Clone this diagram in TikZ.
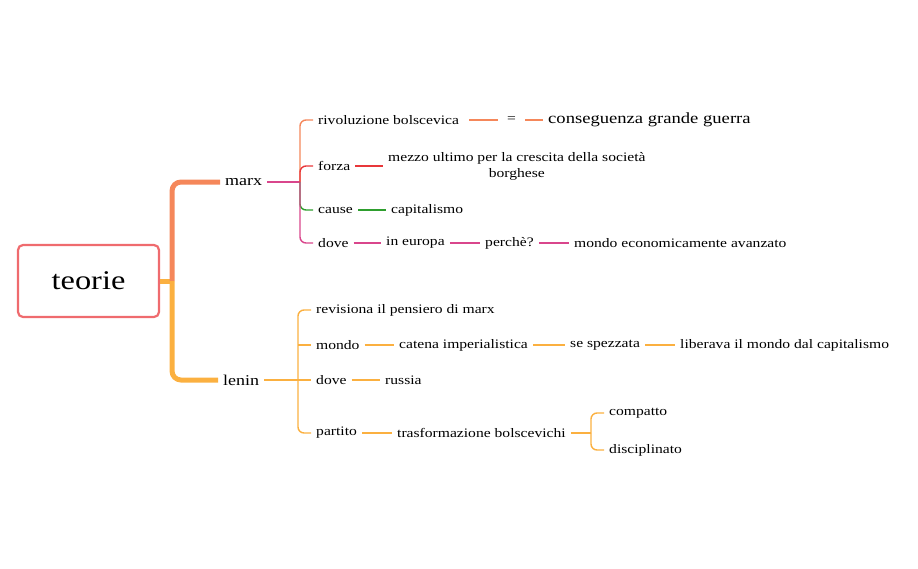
\documentclass[tikz,border=0pt]{standalone}
\usepackage{fontspec}
\setmainfont{Liberation Serif}[FakeStretch=1.2]
\begin{document}
\begin{tikzpicture}[x=1pt,y=-1pt,
  t/.style={inner xsep=5pt,inner ysep=1pt,anchor=west,font=\fontsize{13}{15}\selectfont},
  ln/.style={line width=1.4pt}]
\definecolor{cO}{HTML}{F5875A}\definecolor{cY}{HTML}{FBB040}
\definecolor{cR}{HTML}{E8373A}\definecolor{cG}{HTML}{2E9E2E}
\definecolor{cM}{HTML}{D9468C}\definecolor{cB}{HTML}{EF6B6E}
\useasboundingbox (0,0) rectangle (918,568);
\node[draw=cB,line width=2.2pt,rounded corners=5pt,minimum width=141pt,minimum height=72pt,font=\fontsize{27}{32}\selectfont] (teorie) at (88.5,281) {teorie};
\coordinate (hub) at (172,281);
\draw[cY,line width=5pt] (teorie.east) -- (hub);
\node[t,font=\fontsize{15}{18}\selectfont] (marx) at (220,182) {marx};
\node[t,font=\fontsize{15}{18}\selectfont] (lenin) at (218,380) {lenin};
\draw[cO,line width=5pt,rounded corners=9pt] (hub) -- (172,182) -- (marx.west);
\draw[cY,line width=5pt,rounded corners=9pt] (hub) -- (172,380) -- (lenin.west);
% marx
\node[t] (rb) at (313,120) {rivoluzione bolscevica};
\node[t] (fo) at (313,166) {forza};
\node[t] (ca) at (313,210) {cause};
\node[t] (do) at (313,243) {dove};
\coordinate (mb) at (300,182);
\draw[cM,ln] (marx.east) -- (mb);
\draw[cO,ln,rounded corners=6pt] (mb) -- (300,120) -- (rb.west);
\draw[cR,ln,rounded corners=6pt] (mb) -- (300,166) -- (fo.west);
\draw[cG,ln,rounded corners=6pt] (mb) -- (300,210) -- (ca.west);
\draw[cM,ln,rounded corners=6pt] (mb) -- (300,243) -- (do.west);
\node[t,inner xsep=9pt] (eq) at (498,120) {=};
\node[t,font=\fontsize{15.5}{18}\selectfont] (cg) at (543,120) {conseguenza grande guerra};
\draw[cO,ln] (rb.east)++(5,0) -- (eq.west);
\draw[cO,ln] (eq.east) -- (cg.west);
\node[t,align=center,anchor=west,font=\fontsize{13}{16}\selectfont] (mu) at (383,166) {mezzo ultimo per la crescita della società\\borghese};
\draw[cR,ln] (fo.east) -- (mu.west);
\node[t] (cp) at (386,210) {capitalismo};
\draw[cG,ln] (ca.east) -- (cp.west);
\node[t] (ie) at (381,243) {in europa};
\node[t] (pe) at (480,243) {perchè?};
\node[t] (me) at (569,243) {mondo economicamente avanzato};
\draw[cM,ln] (do.east) -- (ie.west);
\draw[cM,ln] (ie.east) -- (pe.west);
\draw[cM,ln] (pe.east) -- (me.west);
% lenin
\node[t] (rv) at (311,310) {revisiona il pensiero di marx};
\node[t] (mo) at (311,345) {mondo};
\node[t] (dl) at (311,380) {dove};
\node[t] (pa) at (311,433) {partito};
\coordinate (lb) at (298,380);
\draw[cY,ln] (lenin.east) -- (lb);
\draw[cY,ln,rounded corners=6pt] (lb) -- (298,310) -- (rv.west);
\draw[cY,ln] (lb) -- (dl.west);
\draw[cY,ln,rounded corners=6pt] (298,345) -- (mo.west);
\draw[cY,ln,rounded corners=6pt] (lb) -- (298,433) -- (pa.west);
\node[t] (ci) at (394,345) {catena imperialistica};
\node[t] (se) at (565,345) {se spezzata};
\node[t] (li) at (675,345) {liberava il mondo dal capitalismo};
\draw[cY,ln] (mo.east) -- (ci.west);
\draw[cY,ln] (ci.east) -- (se.west);
\draw[cY,ln] (se.east) -- (li.west);
\node[t] (ru) at (380,380) {russia};
\draw[cY,ln] (dl.east) -- (ru.west);
\node[t] (tb) at (392,433) {trasformazione bolscevichi};
\draw[cY,ln] (pa.east) -- (tb.west);
\coordinate (tbb) at (591,433);
\draw[cY,ln] (tb.east) -- (tbb);
\node[t] (co) at (604,413) {compatto};
\node[t] (di) at (604,450) {disciplinato};
\draw[cY,ln,rounded corners=6pt] (tbb) -- (591,413) -- (co.west);
\draw[cY,ln,rounded corners=6pt] (tbb) -- (591,450) -- (di.west);
\end{tikzpicture}
\end{document}
